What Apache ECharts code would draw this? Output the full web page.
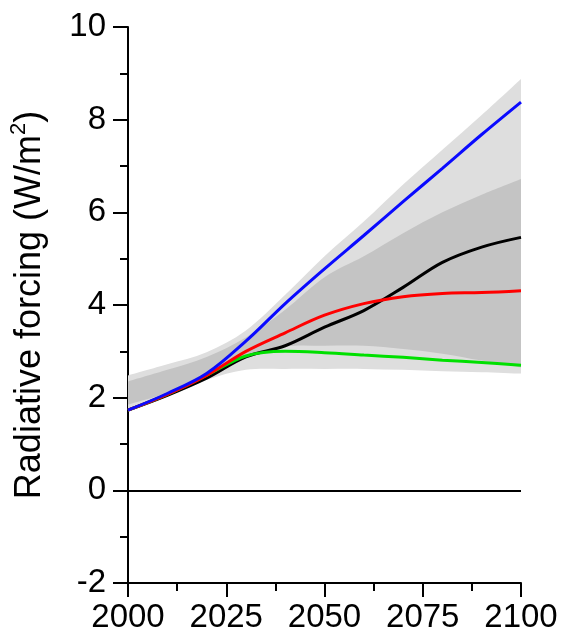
<!DOCTYPE html>
<html>
<head>
<meta charset="utf-8">
<script src="https://cdn.jsdelivr.net/npm/echarts@6/dist/echarts.min.js"></script>
<style>html,body{margin:0;padding:0;background:#fff}#c{width:564px;height:636px}</style>
</head>
<body>
<div id="c"></div>
<script>
var years = [2000, 2010, 2020, 2030, 2040, 2050, 2060, 2070, 2080, 2090, 2100];
var blue  = [1.73, 2.09, 2.52, 3.22, 4.03, 4.78, 5.50, 6.23, 6.95, 7.68, 8.38];
var black = [1.73, 2.05, 2.42, 2.88, 3.12, 3.52, 3.88, 4.38, 4.92, 5.25, 5.46];
var red   = [1.73, 2.07, 2.48, 3.00, 3.40, 3.78, 4.03, 4.18, 4.25, 4.27, 4.31];
var green = [1.73, 2.07, 2.48, 2.90, 3.00, 2.97, 2.92, 2.87, 2.81, 2.76, 2.70];
var lightUpper = [2.48, 2.72, 2.98, 3.45, 4.22, 5.05, 5.80, 6.60, 7.35, 8.10, 8.88];
var lightLower = [1.70, 2.02, 2.38, 2.60, 2.62, 2.62, 2.62, 2.60, 2.57, 2.55, 2.52];
var darkUpper  = [2.35, 2.60, 2.88, 3.30, 3.90, 4.60, 5.05, 5.55, 6.00, 6.38, 6.72];
var darkLower  = [1.85, 2.10, 2.45, 2.85, 3.10, 3.12, 3.12, 3.05, 2.95, 2.80, 2.65];
var xTicks = [2000, 2025, 2050, 2075, 2100];
var yTicks = [-2, 0, 2, 4, 6, 8, 10];

function pairs(ys) { return years.map(function (y, i) { return [y, ys[i]]; }); }

var FONT = 'Liberation Sans, Arial, Helvetica, sans-serif';

function lineSeries(name, data, color, extra) {
  var s = { name: name, type: 'line', data: pairs(data), smooth: 0.35, showSymbol: false, symbol: 'none',
    lineStyle: { color: color, width: 3 }, z: 5, silent: true };
  if (extra) for (var k in extra) s[k] = extra[k];
  return s;
}

// Catmull-Rom spline through screen points, as cubic bezier path commands
function splineCmds(pts, t) {
  var d = '';
  for (var i = 0; i < pts.length - 1; i++) {
    var p0 = pts[i - 1] || pts[i], p1 = pts[i], p2 = pts[i + 1], p3 = pts[i + 2] || pts[i + 1];
    var c1x = p1[0] + (p2[0] - p0[0]) / 6 * t, c1y = p1[1] + (p2[1] - p0[1]) / 6 * t;
    var c2x = p2[0] - (p3[0] - p1[0]) / 6 * t, c2y = p2[1] - (p3[1] - p1[1]) / 6 * t;
    d += ' C' + c1x + ' ' + c1y + ' ' + c2x + ' ' + c2y + ' ' + p2[0] + ' ' + p2[1];
  }
  return d;
}

function bandSeries(lower, upper, color, z) {
  return {
    type: 'custom', silent: true, z: z, clip: true,
    data: years.map(function (y, i) { return [y, lower[i], upper[i]]; }),
    encode: { x: 0, y: [1, 2] },
    renderItem: function (params, api) {
      if (params.dataIndex !== 0) return null;
      var up = [], lo = [];
      for (var i = 0; i < years.length; i++) {
        up.push(api.coord([years[i], upper[i]]));
        lo.push(api.coord([years[i], lower[i]]));
      }
      lo.reverse();
      var d = 'M' + up[0][0] + ' ' + up[0][1] + splineCmds(up, 1) +
        ' L' + lo[0][0] + ' ' + lo[0][1] + splineCmds(lo, 1) + ' Z';
      return { type: 'path', shape: { pathData: d }, style: { fill: color, stroke: null } };
    }
  };
}

var chart = echarts.init(document.getElementById('c'), null, { renderer: 'canvas' });
chart.setOption({
  animation: false,
  backgroundColor: '#fff',
  grid: { left: 127, right: 43, top: 27, bottom: 53, containLabel: false },
  xAxis: {
    type: 'value', min: 2000, max: 2100, interval: 25,
    axisLine: { onZero: false, lineStyle: { color: '#000', width: 2 } },
    axisTick: { length: 14, lineStyle: { color: '#000', width: 2 } },
    minorTick: { show: true, splitNumber: 2, length: 8, lineStyle: { color: '#000', width: 2 } },
    splitLine: { show: false },
    axisLabel: { fontFamily: FONT, fontSize: 33, color: '#000', margin: 18,
      formatter: function (v) { return xTicks.indexOf(v) >= 0 ? String(v) : ''; } }
  },
  yAxis: {
    type: 'value', min: -2, max: 10, interval: 2,
    name: 'Radiative forcing (W/m{sup|2})',
    nameLocation: 'middle', nameGap: 76, nameRotate: 90,
    nameTextStyle: { fontFamily: FONT, fontSize: 36, color: '#000',
      rich: { sup: { fontFamily: FONT, fontSize: 22, color: '#000', verticalAlign: 'top', lineHeight: 44 } } },
    axisLine: { show: true, lineStyle: { color: '#000', width: 2 } },
    axisTick: { length: 15, lineStyle: { color: '#000', width: 2 } },
    minorTick: { show: true, splitNumber: 2, length: 8, lineStyle: { color: '#000', width: 2 } },
    splitLine: { show: false },
    axisLabel: { fontFamily: FONT, fontSize: 33, color: '#000', margin: 22,
      formatter: function (v) { return yTicks.indexOf(v) >= 0 ? String(v) : ''; } }
  },
  series: [
    bandSeries(lightLower, lightUpper, '#dedede', 1),
    bandSeries(darkLower, darkUpper, '#c4c4c4', 2),
    lineSeries('black', black, '#000000', {
      markLine: { silent: true, symbol: ['none', 'none'], label: { show: false },
        lineStyle: { color: '#000', width: 2, type: 'solid' }, data: [{ yAxis: 0 }] }
    }),
    lineSeries('green', green, '#00e000'),
    lineSeries('red', red, '#ff0000'),
    lineSeries('blue', blue, '#0a0aff')
  ]
});
</script>
</body>
</html>
